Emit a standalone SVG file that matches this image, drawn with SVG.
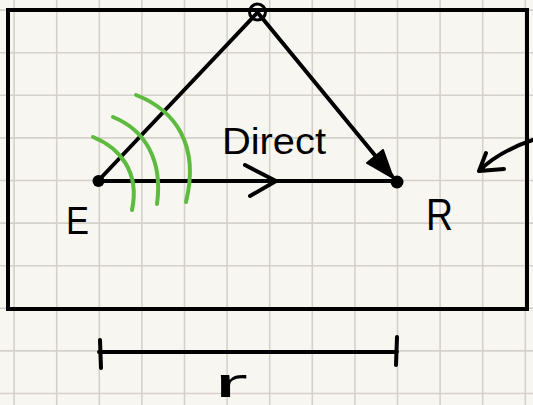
<svg xmlns="http://www.w3.org/2000/svg" width="533" height="405" viewBox="0 0 533 405">
<style>
.grid{stroke:#d5d1ca;stroke-width:1.6;fill:none}
.ink{stroke:#000;stroke-width:4;fill:none;stroke-linecap:round;stroke-linejoin:round}
.wave{stroke:#5dbb3f;stroke-width:4;fill:none;stroke-linecap:round}
.lbl{font-family:"Liberation Sans",Arial,sans-serif;fill:#000}
</style>
<rect width="533" height="405" fill="#f8f6f1"/>
<path class="grid" d="M14.1 0V405M56.7 0V405M99.3 0V405M141.9 0V405M184.5 0V405M227.1 0V405M269.7 0V405M312.3 0V405M354.9 0V405M397.5 0V405M440.1 0V405M482.7 0V405M525.3 0V405M0 10.1H533M0 52.7H533M0 95.3H533M0 137.9H533M0 180.5H533M0 223.1H533M0 265.7H533M0 308.3H533M0 350.9H533M0 393.5H533"/>
<g id="room"><rect x="8" y="10" width="519" height="299" fill="none" stroke="#000" stroke-width="4"/></g>
<g id="connectors">
<path class="ink" d="M98 181L257 13"/>
<path class="ink" d="M258 13L392 176"/>
<path d="M393 178L383 150L367 163Z" fill="#000" stroke="#000" stroke-width="2" stroke-linejoin="round"/>
<path class="ink" d="M98 181H397"/>
<path class="ink" d="M245 165L276 181L250 196"/>
<path class="ink" d="M533 140C515 146 494 156 479 171M486 153L479 171L504 169"/>
<path class="ink" d="M100 340L101 368M99 352H397M397 337L396 365"/>
</g>
<g id="waves">
<path class="wave" d="M93 137C120 148 140 172 132 210"/>
<path class="wave" d="M113 117C145 130 163 160 157 204"/>
<path class="wave" d="M136 95C175 110 200 145 186 202"/>
</g>
<g id="reflector"><circle cx="257.5" cy="12" r="8" fill="none" stroke="#000" stroke-width="3"/></g>
<g id="E"><circle cx="98.5" cy="181" r="6" fill="#000"/><text class="lbl" x="66" y="234" font-size="38" textLength="23" lengthAdjust="spacingAndGlyphs">E</text></g>
<g id="R"><circle cx="397" cy="182" r="6.5" fill="#000"/><text class="lbl" x="426" y="230" font-size="45" textLength="27" lengthAdjust="spacingAndGlyphs">R</text></g>
<g id="direct"><text class="lbl" x="222" y="154" font-size="36" textLength="104" lengthAdjust="spacingAndGlyphs">Direct</text></g>
<g id="dist"><text class="lbl" x="214" y="397" font-size="40" textLength="34" lengthAdjust="spacingAndGlyphs">r</text></g>
</svg>
